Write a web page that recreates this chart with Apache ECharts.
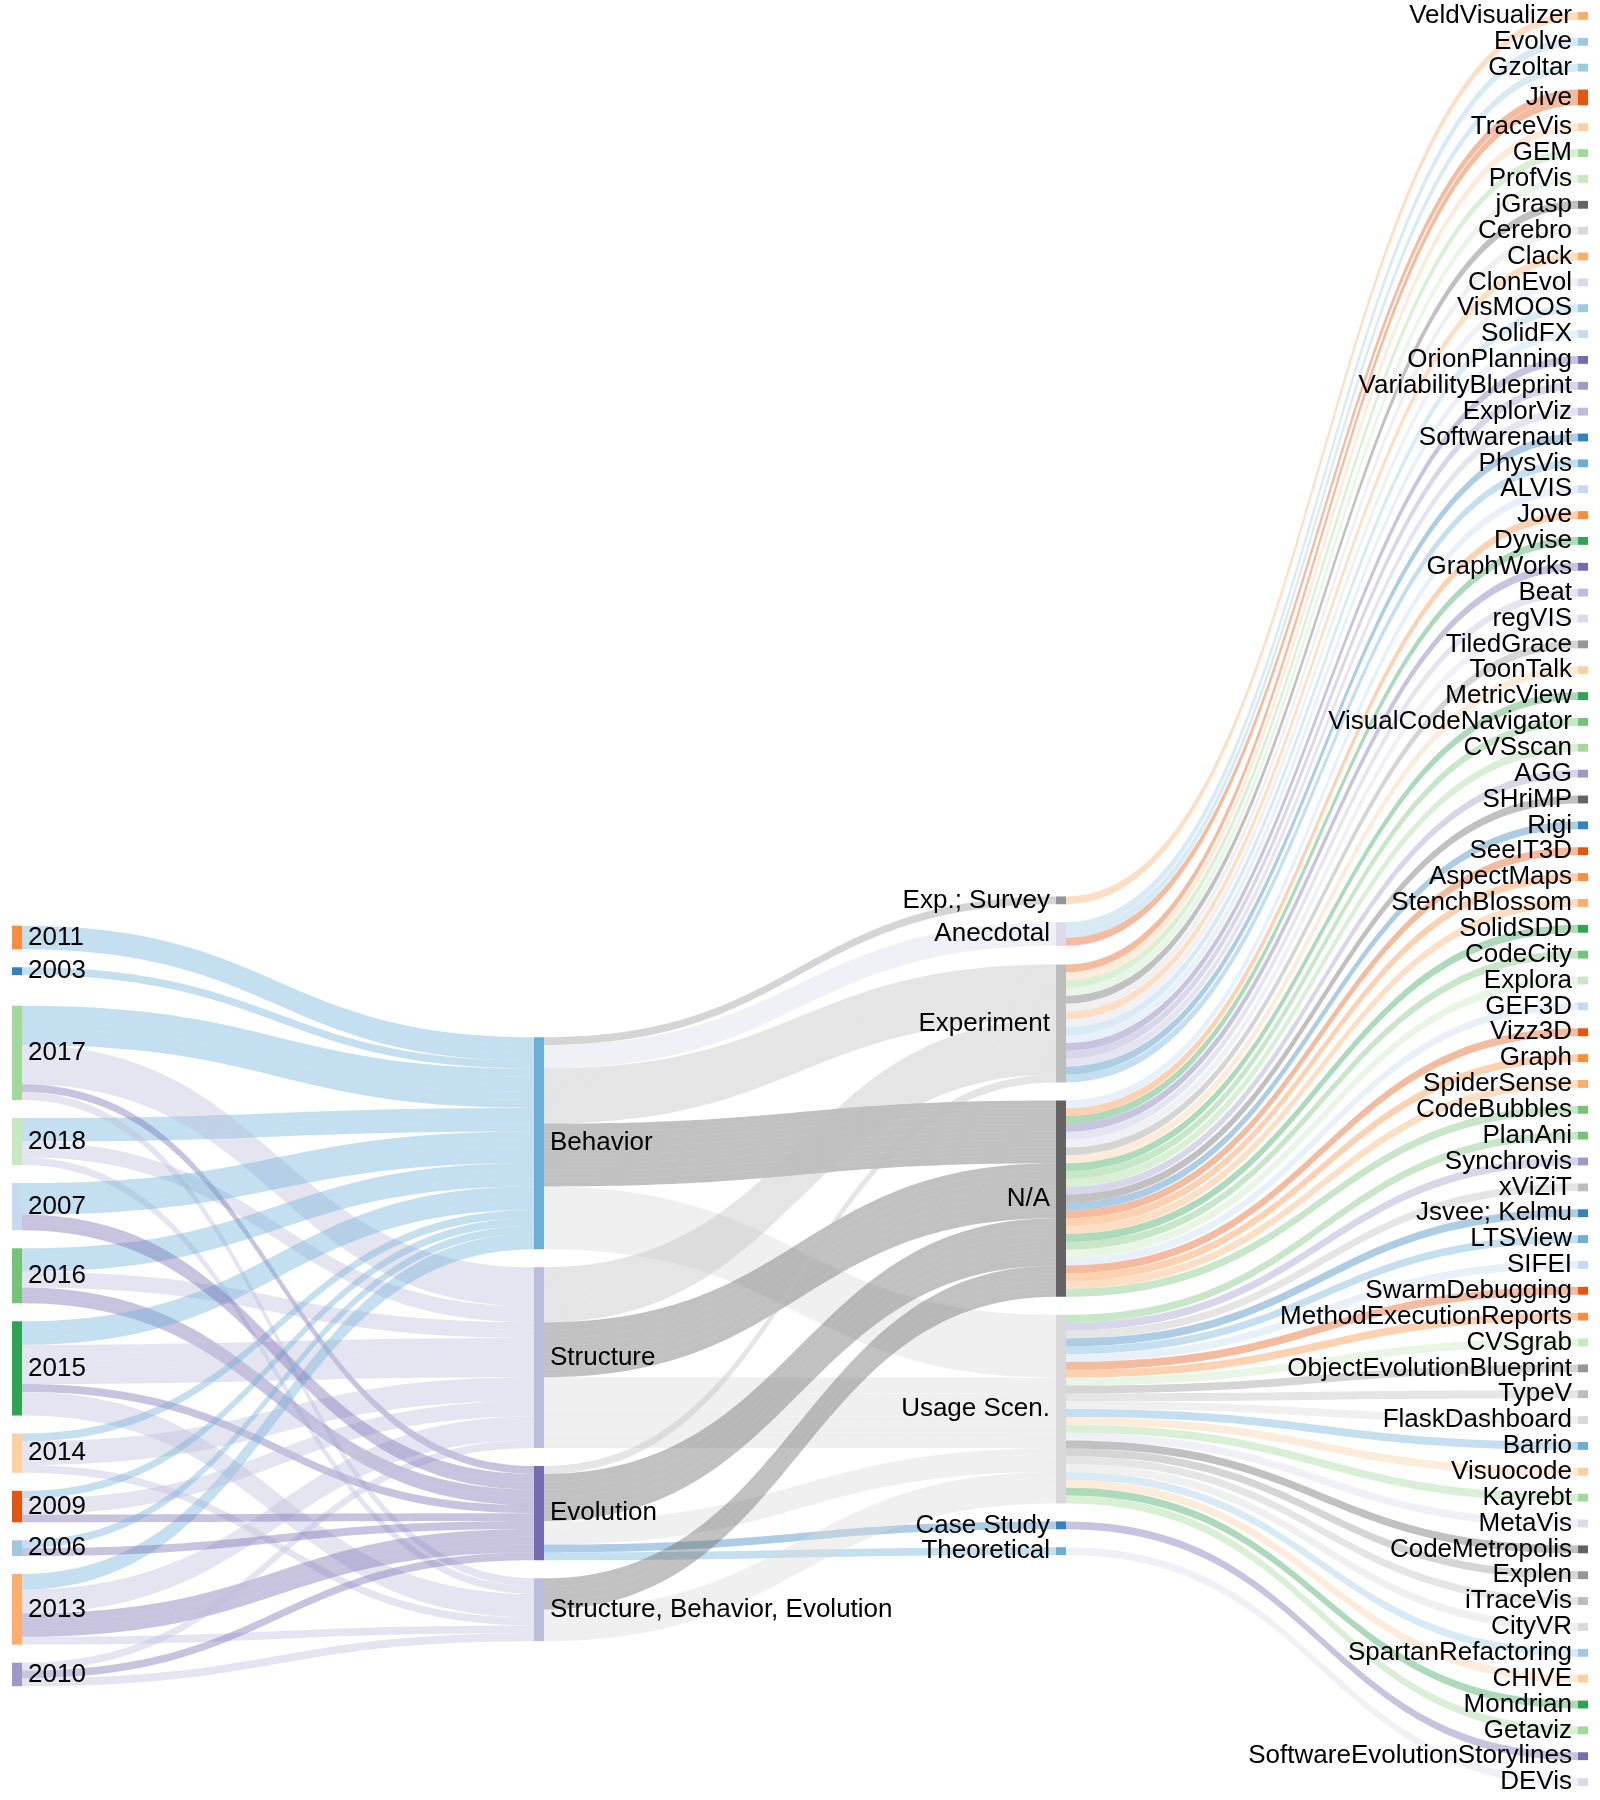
<!DOCTYPE html>
<html><head><meta charset="utf-8">
<script src="https://cdn.jsdelivr.net/npm/echarts@6/dist/echarts.min.js"></script>
<style>html,body{margin:0;padding:0;background:#fff}#chart{width:1600px;height:1800px}</style>
</head><body><div id="chart"></div>
<script>
// ---- data ----
const years = ['2018','2017','2016','2015','2014','2013','2011','2010','2009','2007','2006','2003'];
const aspects = ['Behavior','Structure','Evolution','Structure, Behavior, Evolution'];
const evaluations = ['Exp.; Survey','Anecdotal','Experiment','N/A','Usage Scen.','Case Study','Theoretical'];
const tools = ['VeldVisualizer','Evolve','Gzoltar','Jive','TraceVis','GEM','ProfVis','jGrasp','Cerebro','Clack','ClonEvol','VisMOOS','SolidFX','OrionPlanning','VariabilityBlueprint','ExplorViz','Softwarenaut','PhysVis','ALVIS','Jove','Dyvise','GraphWorks','Beat','regVIS','TiledGrace','ToonTalk','MetricView','VisualCodeNavigator','CVSscan','AGG','SHriMP','Rigi','SeeIT3D','AspectMaps','StenchBlossom','SolidSDD','CodeCity','Explora','GEF3D','Vizz3D','Graph','SpiderSense','CodeBubbles','PlanAni','Synchrovis','xViZiT','Jsvee; Kelmu','LTSView','SIFEI','SwarmDebugging','MethodExecutionReports','CVSgrab','ObjectEvolutionBlueprint','TypeV','FlaskDashboard','Barrio','Visuocode','Kayrebt','MetaVis','CodeMetropolis','Explen','iTraceVis','CityVR','SpartanRefactoring','SoftwareEvolutionStorylines','CHIVE','Mondrian','Getaviz','DEVis'];

// [source, target, number of tools]
const yearAspectLinks = [
  ['2018','Behavior',3],['2018','Structure',2],['2018','Structure, Behavior, Evolution',1],
  ['2017','Behavior',5],['2017','Structure',5],['2017','Evolution',1],['2017','Structure, Behavior, Evolution',1],
  ['2016','Behavior',3],['2016','Structure',2],['2016','Evolution',2],
  ['2015','Behavior',3],['2015','Structure',5],['2015','Evolution',1],['2015','Structure, Behavior, Evolution',3],
  ['2014','Behavior',1],['2014','Structure',3],['2014','Structure, Behavior, Evolution',1],
  ['2013','Behavior',2],['2013','Structure',3],['2013','Evolution',3],['2013','Structure, Behavior, Evolution',1],
  ['2011','Behavior',3],
  ['2010','Structure',1],['2010','Evolution',1],['2010','Structure, Behavior, Evolution',1],
  ['2009','Behavior',1],['2009','Structure',2],['2009','Evolution',1],
  ['2007','Behavior',4],['2007','Evolution',2],
  ['2006','Behavior',1],['2006','Evolution',1],
  ['2003','Behavior',1]
];

const aspectEvalLinks = [
  ['Behavior','Exp.; Survey',1],['Behavior','Anecdotal',3],['Behavior','Experiment',7],['Behavior','N/A',8],['Behavior','Usage Scen.',8],
  ['Structure','Experiment',7],['Structure','N/A',7],['Structure','Usage Scen.',9],
  ['Evolution','Experiment',1],['Evolution','N/A',6],['Evolution','Usage Scen.',3],['Evolution','Case Study',1],['Evolution','Theoretical',1],
  ['Structure, Behavior, Evolution','N/A',4],['Structure, Behavior, Evolution','Usage Scen.',4]
];

const evalToolGroups = [
  ['Exp.; Survey',['VeldVisualizer']],
  ['Anecdotal',['Evolve','Gzoltar','Jive']],
  ['Experiment',['Jive','TraceVis','GEM','ProfVis','jGrasp','Cerebro','Clack','ClonEvol','VisMOOS','SolidFX','OrionPlanning','VariabilityBlueprint','ExplorViz','Softwarenaut','PhysVis']],
  ['N/A',['ALVIS','Jove','Dyvise','GraphWorks','Beat','regVIS','TiledGrace','ToonTalk','MetricView','VisualCodeNavigator','CVSscan','AGG','SHriMP','Rigi','SeeIT3D','AspectMaps','StenchBlossom','SolidSDD','CodeCity','Explora','GEF3D','Vizz3D','Graph','SpiderSense','CodeBubbles']],
  ['Usage Scen.',['PlanAni','Synchrovis','xViZiT','Jsvee; Kelmu','LTSView','SIFEI','SwarmDebugging','MethodExecutionReports','CVSgrab','ObjectEvolutionBlueprint','TypeV','FlaskDashboard','Barrio','Visuocode','Kayrebt','MetaVis','CodeMetropolis','Explen','iTraceVis','CityVR','SpartanRefactoring','CHIVE','Mondrian','Getaviz']],
  ['Case Study',['SoftwareEvolutionStorylines']],
  ['Theoretical',['DEVis']]
];

// ---- styles ----
const nodeColors = {
  '2018':'#c7e9c0','2017':'#a1d99b','2016':'#74c476','2015':'#31a354','2014':'#fdd0a2','2013':'#fdae6b',
  '2011':'#fd8d3c','2010':'#9e9ac8','2009':'#e6550d','2007':'#c6dbef','2006':'#9ecae1','2003':'#3182bd',
  'Behavior':'#6baed6','Structure':'#bcbddc','Evolution':'#756bb1','Structure, Behavior, Evolution':'#bcbddc',
  'Exp.; Survey':'#969696','Anecdotal':'#dadaeb','Experiment':'#bdbdbd','N/A':'#636363','Usage Scen.':'#d9d9d9',
  'Case Study':'#3182bd','Theoretical':'#6baed6',
  'VeldVisualizer':'#fdae6b','Evolve':'#9ecae1','Gzoltar':'#9ecae1','Jive':'#e6550d','TraceVis':'#fdd0a2','GEM':'#a1d99b',
  'ProfVis':'#c7e9c0','jGrasp':'#636363','Cerebro':'#d9d9d9','Clack':'#fdae6b','ClonEvol':'#dadaeb','VisMOOS':'#9ecae1',
  'SolidFX':'#c6dbef','OrionPlanning':'#756bb1','VariabilityBlueprint':'#9e9ac8','ExplorViz':'#bcbddc','Softwarenaut':'#3182bd',
  'PhysVis':'#6baed6','ALVIS':'#c6dbef','Jove':'#fd8d3c','Dyvise':'#31a354','GraphWorks':'#756bb1','Beat':'#bcbddc',
  'regVIS':'#dadaeb','TiledGrace':'#969696','ToonTalk':'#fdd0a2','MetricView':'#31a354','VisualCodeNavigator':'#74c476',
  'CVSscan':'#a1d99b','AGG':'#9e9ac8','SHriMP':'#636363','Rigi':'#3182bd','SeeIT3D':'#e6550d','AspectMaps':'#fd8d3c',
  'StenchBlossom':'#fdae6b','SolidSDD':'#31a354','CodeCity':'#74c476','Explora':'#c7e9c0','GEF3D':'#c6dbef','Vizz3D':'#e6550d',
  'Graph':'#fd8d3c','SpiderSense':'#fdae6b','CodeBubbles':'#74c476','PlanAni':'#74c476','Synchrovis':'#9e9ac8','xViZiT':'#bdbdbd',
  'Jsvee; Kelmu':'#3182bd','LTSView':'#6baed6','SIFEI':'#c6dbef','SwarmDebugging':'#e6550d','MethodExecutionReports':'#fd8d3c',
  'CVSgrab':'#c7e9c0','ObjectEvolutionBlueprint':'#969696','TypeV':'#bdbdbd','FlaskDashboard':'#d9d9d9','Barrio':'#6baed6',
  'Visuocode':'#fdd0a2','Kayrebt':'#a1d99b','MetaVis':'#dadaeb','CodeMetropolis':'#636363','Explen':'#969696','iTraceVis':'#bdbdbd',
  'CityVR':'#d9d9d9','SpartanRefactoring':'#9ecae1','SoftwareEvolutionStorylines':'#756bb1','CHIVE':'#fdd0a2','Mondrian':'#31a354',
  'Getaviz':'#a1d99b','DEVis':'#dadaeb'
};

// ---- build: one ribbon per tool and stage ----
const leftLabelNodes = new Set(evaluations.concat(tools));
const nodes = years.concat(aspects, evaluations, tools).map(n => ({
  name: n,
  itemStyle: { color: nodeColors[n] },
  label: { position: leftLabelNodes.has(n) ? 'left' : 'right' }
}));
const links = [];
yearAspectLinks.concat(aspectEvalLinks).forEach(l => {
  for (let k = 0; k < l[2]; k++) links.push({ source: l[0], target: l[1], value: 1 });
});
evalToolGroups.forEach(g => g[1].forEach(t => links.push({ source: g[0], target: t, value: 1 })));

const chart = echarts.init(document.getElementById('chart'), null, { renderer: 'canvas' });
chart.setOption({
  backgroundColor: '#fff',
  animation: false,
  series: [{
    type: 'sankey',
    left: 12, right: 12, top: 12, bottom: 14,
    nodeWidth: 10,
    nodeGap: 18,
    layoutIterations: 32,
    draggable: false,
    emphasis: { disabled: true },
    data: nodes,
    links: links,
    itemStyle: { borderWidth: 0 },
    lineStyle: { color: 'target', opacity: 0.4, curveness: 0.5 },
    label: {
      color: '#000',
      fontSize: 26,
      fontFamily: '"Liberation Sans", Arial, Helvetica, sans-serif',
      distance: 6
    }
  }]
});
</script>
</body></html>
